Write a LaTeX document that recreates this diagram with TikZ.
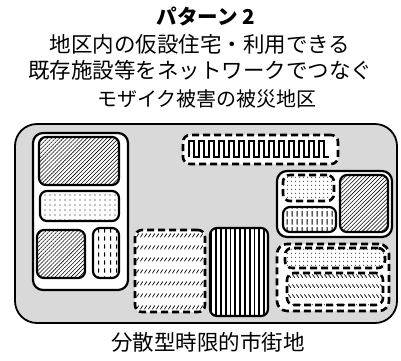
\documentclass[tikz,border=0pt]{standalone}
\usepackage{fontspec}
\setmainfont{Noto Sans CJK JP}
\usepackage{tikz}
\usetikzlibrary{patterns, patterns.meta}
\definecolor{areagray}{RGB}{217,217,217}

% hatch patterns of our own
\tikzdeclarepattern{
  name=vdashlines, type=uncolored,
  bounding box={(0pt,0pt) and (6pt,8pt)}, tile size={(6pt,8pt)},
  code={\draw[line width=1pt] (3pt,0.5pt) -- (3pt,5pt);}
}
\tikzdeclarepattern{
  name=ticklines, type=uncolored,
  bounding box={(0pt,0pt) and (5pt,8pt)}, tile size={(5pt,8pt)},
  code={\draw[line width=1pt] (2.5pt,0.5pt) -- (2.5pt,6.5pt);}
}
\tikzdeclarepattern{
  name=slashrows, type=uncolored,
  bounding box={(0pt,0pt) and (4pt,12pt)}, tile size={(4pt,12pt)},
  code={\draw[line width=0.8pt] (0.5pt,4pt) -- (3.5pt,8pt);}
}
\tikzdeclarepattern{
  name=backslashrows, type=uncolored,
  bounding box={(0pt,0pt) and (4pt,10pt)}, tile size={(4pt,10pt)},
  code={\draw[line width=0.8pt] (0.5pt,7pt) -- (3.5pt,3.5pt);}
}

\tikzset{
    % district area
    areabox/.style={rectangle, draw=black, line width=1.8pt, fill=areagray,
                rounded corners=22pt},
    % groups of facilities
    grpbox/.style={rectangle, draw=black, line width=2.2pt, fill=white,
                rounded corners=10pt},
    dgrpbox/.style={grpbox, line width=2.6pt, dash pattern=on 7pt off 4pt},
    % single facilities
    plainbox/.style={rectangle, draw=black, line width=2.2pt, fill=white,
                rounded corners=7pt},
    dplainbox/.style={plainbox, line width=2.6pt, dash pattern=on 7pt off 4pt},
    cellbox/.style={plainbox, postaction={pattern={#1}}},
    dcellbox/.style={dplainbox, postaction={pattern={#1}}},
    % fills
    hatch/.style={cellbox={Lines[angle=45,distance=2.8pt,line width=0.55pt]}},
    dotsbig/.style={cellbox={Dots[distance=5pt,radius=0.6pt]}},
    ddots/.style={dcellbox={Dots[distance=4pt,radius=0.6pt]}},
    bars/.style={cellbox={Lines[angle=90,distance=4.8pt,line width=1.8pt]}},
    % texts
    headlbl/.style={font=\fontsize{20.5}{23}\selectfont\bfseries},
    txtlbl/.style={font=\fontsize{21.5}{24}\selectfont},
    sublbl/.style={font=\fontsize{20}{23}\selectfont},
}

\begin{document}
\begin{tikzpicture}[x=1pt, y=-1pt]
\useasboundingbox (0,0) rectangle (401,360);

% Titles
\node[headlbl] (title) at (206,17) {パターン 2};
\node[txtlbl] (line1) at (200,44) {地区内の仮設住宅・利用できる};
\node[txtlbl] (line2) at (200,70) {既存施設等をネットワークでつなぐ};
\node[sublbl] (area) at (207,99) {モザイク被害の被災地区};

% District
\node[areabox, minimum width=382, minimum height=199] (district) at (206,223.5) {};

% Left group
\node[grpbox, minimum width=95, minimum height=157] (leftgrp) at (80.5,211.5) {};
\node[hatch, minimum width=80, minimum height=48] (lefta) at (79,161) {};
\node[dotsbig, minimum width=79, minimum height=30] (leftb) at (79.5,206) {};
\node[hatch, minimum width=48, minimum height=48] (leftc) at (61,254) {};
\node[cellbox=vdashlines, minimum width=26, minimum height=50] (leftd) at (106,253) {};

% Top: meander
\node[dplainbox, minimum width=155, minimum height=29] (meander) at (260.5,149.5) {};
\draw[line width=1.3pt] (189,157)
  \foreach \i in {1,...,14} { -- ++(0,-16) -- ++(5,0) -- ++(0,16) -- ++(5,0) };

% Middle
\node[dcellbox=slashrows, minimum width=70, minimum height=82] (midhatch) at (170,271) {};
\node[bars, minimum width=58, minimum height=88] (midlines) at (239,272) {};

% Right group
\node[grpbox, minimum width=115, minimum height=66] (rightgrp) at (334.5,204) {};
\node[ddots, minimum width=51, minimum height=26] (righte) at (308.5,188) {};
\node[cellbox=ticklines, minimum width=53, minimum height=25] (rightf) at (309.5,219.5) {};
\node[hatch, minimum width=48, minimum height=57] (rightg) at (364,203.5) {};

% Lower right group
\node[dgrpbox, minimum width=112, minimum height=67] (lowgrp) at (333,277.5) {};
\node[ddots, minimum width=100, minimum height=20] (lowh) at (335,258) {};
\node[dcellbox=backslashrows, minimum width=96, minimum height=32] (lowi) at (335,289) {};

% Bottom label
\node[txtlbl] (kind) at (208,342) {分散型時限的市街地};

\end{tikzpicture}
\end{document}
